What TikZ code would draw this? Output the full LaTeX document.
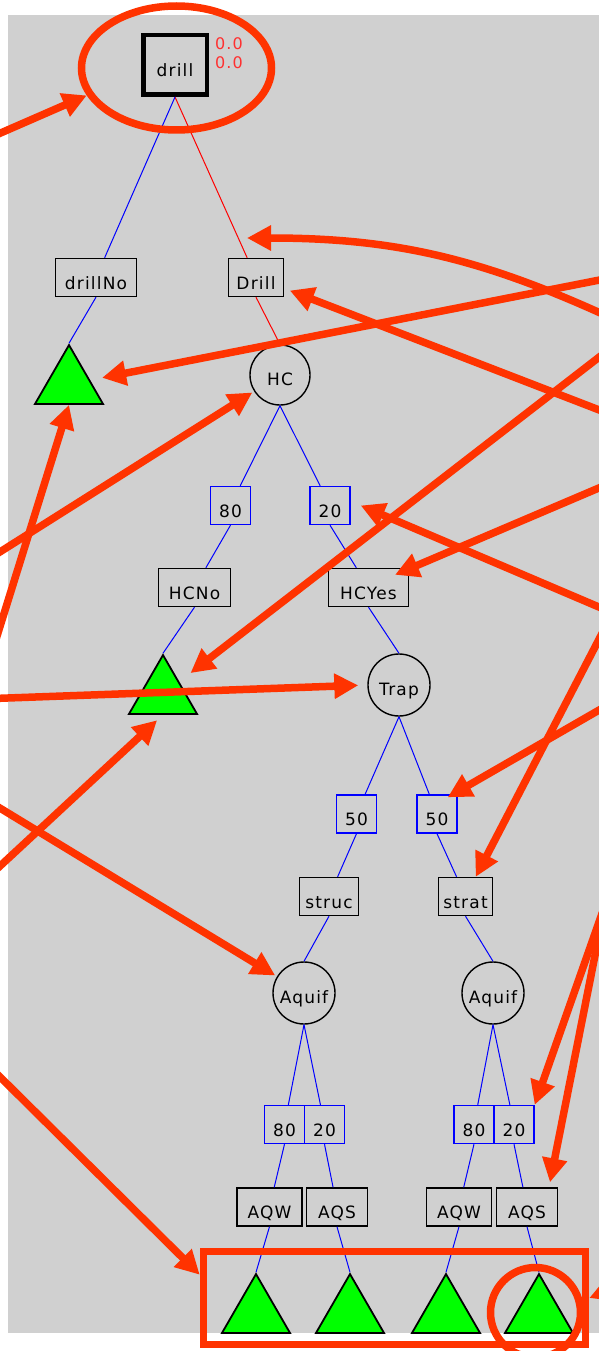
\documentclass[tikz,border=0pt]{standalone}
\usepackage{fontspec}
\setmainfont{DejaVu Sans}[LetterSpace=7]
\usetikzlibrary{shapes.geometric,arrows.meta}
\definecolor{panel}{RGB}{208,208,208}
\definecolor{leaf}{RGB}{0,255,0}
\definecolor{probline}{RGB}{0,0,255}
\definecolor{pickline}{RGB}{255,0,0}
\definecolor{note}{RGB}{255,51,0}
\definecolor{valred}{RGB}{255,48,48}

\begin{document}
\begin{tikzpicture}[x=1pt,y=-1pt,
font=\fontsize{17}{20}\selectfont,
decision/.style={
	draw=black, line width=4.5pt, rectangle, inner sep=0pt,
	minimum width=63.5pt, minimum height=59.5pt,
	text height=41.75pt, text depth=17.75pt
},
choice/.style={
	draw=black, line width=1.4pt, rectangle,
	inner xsep=2pt, inner ysep=0pt,
	text height=30.5pt, text depth=7.5pt
},
prob/.style={choice, draw=probline, minimum width=40pt},
chance/.style={
	draw=black, line width=1.4pt, circle, inner sep=0pt,
	minimum size=#1, text height=22pt, text depth=2pt
},
chance/.default=61pt,
payoff/.style={
	draw=black, line width=1.8pt, fill=leaf,
	regular polygon, regular polygon sides=3,
	inner sep=0pt, minimum size=78.5pt
},
branch/.style={draw=probline, line width=1pt},
taken/.style={draw=pickline, line width=1pt},
hilite/.style={draw=note, line width=7.5pt, inner sep=0pt},
callout/.style={draw=note, line width=7.5pt, -{Triangle[length=24pt,width=24pt]}}
]
\useasboundingbox (0,0) rectangle (599,1351);
\fill[panel] (8,15) rectangle (599,1333);

% decision node and the first choice
\node[decision] (drill) at (175,65) {drill};
\node[anchor=north west, inner sep=0pt, align=left, text=valred,
	font=\fontsize{16}{19}\selectfont] (drillval) at (215,37) {0.0\\0.0};
\node[choice, minimum width=80.5pt] (drillNo) at (96,277.5) {drillNo};
\node[choice, minimum width=55pt] (drillY) at (256,277.5) {Drill};
\node[payoff] (tri1) at (69,384.3) {};
\node[chance=60pt] (hc) at (280,375) {HC};

% hydrocarbons
\node[prob] (p80a) at (230.5,505.5) {80};
\node[prob] (p20a) at (330,505.5) {20};
\node[choice, minimum width=71.6pt] (hcno) at (194.5,587.5) {HCNo};
\node[choice, minimum width=79.6pt] (hcyes) at (368.5,587.5) {HCYes};
\node[payoff] (tri2) at (163,694.3) {};
\node[chance=62pt] (trap) at (399,685) {Trap};

% trap type
\node[prob] (p50a) at (356.5,814) {50};
\node[prob] (p50b) at (437,814) {50};
\node[choice, minimum width=58.6pt] (struc) at (329,896.5) {struc};
\node[choice, minimum width=53.6pt] (strat) at (465.5,896.5) {strat};
\node[chance=62pt] (aquifa) at (304,993) {Aquif};
\node[chance=62pt] (aquifb) at (493,993) {Aquif};

% aquifer outcomes
\node[prob] (p80c) at (284.5,1124.5) {80};
\node[prob] (p20c) at (324.5,1124.5) {20};
\node[prob] (p80d) at (474,1124.5) {80};
\node[prob] (p20d) at (514,1124.5) {20};
\node[choice, minimum width=65pt] (aqwc) at (269.5,1207) {AQW};
\node[choice, minimum width=60.6pt] (aqsc) at (337,1207) {AQS};
\node[choice, minimum width=65pt] (aqwd) at (459,1207) {AQW};
\node[choice, minimum width=60.6pt] (aqsd) at (527,1207) {AQS};
\node[payoff] (tric) at (256,1313.3) {};
\node[payoff] (trid) at (350,1313.3) {};
\node[payoff] (trie) at (446,1313.3) {};
\node[payoff] (trif) at (539,1313.3) {};

% branches
\draw[taken] (drill.south) -- (drillY);
\draw[taken] (drillY.south) -- (hc.north);
\foreach \a/\b in {drill.south/drillNo, drillNo.south/tri1.north,
	hc.south/p80a, hc.south/p20a, p80a.south/hcno, p20a.south/hcyes,
	hcno.south/tri2.north, hcyes.south/trap.north,
	trap.south/p50a, trap.south/p50b, p50a.south/struc, p50b.south/strat,
	struc.south/aquifa.north, strat.south/aquifb.north,
	aquifa.south/p80c, aquifa.south/p20c, aquifb.south/p80d, aquifb.south/p20d,
	p80c.south/aqwc, p20c.south/aqsc, p80d.south/aqwd, p20d.south/aqsd,
	aqwc.south/tric.north, aqsc.south/trid.north,
	aqwd.south/trie.north, aqsd.south/trif.north}
{
	\draw[branch] (\a) -- (\b);
}

% marks drawn over the tree
\node[hilite, ellipse, minimum width=190pt, minimum height=124pt] (ring) at (176.5,68) {};
\node[hilite, rectangle, minimum width=382pt, minimum height=93pt] (frame) at (394.5,1298) {};
\node[hilite, circle, minimum size=90pt] (pick) at (535.5,1312.5) {};

\coordinate (a1) at (-20,142);
\coordinate (a2) at (-12,665);
\coordinate (a3) at (-16,562);
\coordinate (a4) at (-20,699);
\coordinate (a5) at (-15,880);
\coordinate (a6) at (-15,799);
\coordinate (a7) at (-15,1062);
\coordinate (a8) at (620,322);
\coordinate (a9) at (620,276);
\coordinate (a10) at (620,418);
\coordinate (a11) at (620,341);
\coordinate (a12) at (620,479);
\coordinate (a13) at (620,616);
\coordinate (a14) at (609,620);
\coordinate (a15) at (620,698);
\coordinate (a16) at (605,905);
\coordinate (a18) at (640,1278);
\coordinate (redcut) at (247,238);

\draw[callout] (a1) -- (ring.197);
\draw[callout] (a2) -- (tri1.south);
\draw[callout, shorten >=2pt] (a3) -- (hc);
\draw[callout, shorten >=9pt] (a4) -- (trap.west);
\draw[callout, shorten >=8pt] (a5) -- (tri2.south);
\draw[callout, shorten >=2pt] (a6) -- (aquifa);
\draw[callout] (a7) -- ([yshift=-27pt]frame.north west);
\draw[callout] (a8) to[out=155,in=0] (redcut);
\draw[callout, shorten >=12pt] (a9) -- (tri1);
\draw[callout, shorten >=6pt] (a10) -- (drillY);
\draw[callout, shorten >=14pt] (a11) -- (tri2);
\draw[callout] (a12) -- ([shift={(-14,7)}]hcyes.north east);
\draw[callout] (a13) -- ([xshift=10pt]p20a.east);
\draw[callout] (a14) -- (strat);
\draw[callout] (a15) -- ([shift={(-10,3)}]p50b.north east);
\draw[callout] (a16) -- (p20d.north east);
\draw[callout] (a16) -- ([shift={(-8,-5)}]aqsd.north east);
\draw[callout] (a18) -- (frame.east);
\end{tikzpicture}
\end{document}
